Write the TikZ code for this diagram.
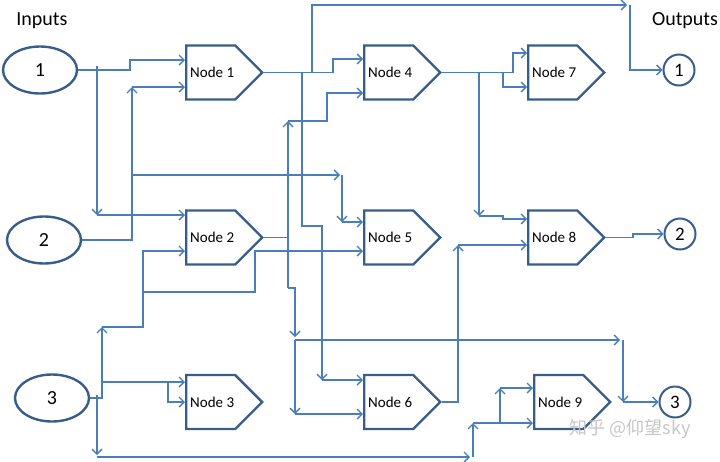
\documentclass[tikz,border=0pt]{standalone}
\usepackage{fontspec}
\setmainfont{Carlito}
\newfontfamily\cjkfont{Noto Sans CJK SC}
\usetikzlibrary{arrows.meta,shapes.geometric,shapes.symbols}
\definecolor{edgeblue}{RGB}{56,93,138}
\definecolor{linkblue}{RGB}{74,126,187}

\begin{document}
\begin{tikzpicture}[x=1pt,y=-1pt,
  proc/.style={signal,signal to=east,signal pointer angle=90,draw=edgeblue,line width=2.4pt,minimum width=76pt,minimum height=54pt,inner sep=0pt,anchor=west,font=\fontsize{15}{17}\selectfont,execute at begin node=\hspace*{3pt}},
  inport/.style={ellipse,draw=edgeblue,line width=2.4pt,minimum width=74pt,minimum height=47pt,font=\fontsize{20}{24}\selectfont},
  outport/.style={circle,draw=edgeblue,line width=2pt,minimum size=31pt,inner sep=0pt,font=\fontsize{19}{22}\selectfont},
  link/.style={draw=linkblue,line width=1.4pt},
  arr/.style={link,-{Straight Barb[length=5pt,width=10pt]}}]
  \useasboundingbox (0,0) rectangle (720,461);
  % Headings
  \node[font=\fontsize{20}{24}\selectfont] (inhead) at (42,21) {Inputs};
  \node[font=\fontsize{20}{24}\selectfont] (outhead) at (685,21) {Outputs};
  % Inputs
  \node[inport] (in1) at (40,70) {1};
  \node[inport] (in2) at (44,240) {2};
  \node[inport] (in3) at (52,398) {3};
  % Nodes
  \node[proc] (n1) at (185,72.5) {Node 1};
  \node[proc] (n2) at (185,237.5) {Node 2};
  \node[proc] (n3) at (185,402) {Node 3};
  \node[proc] (n4) at (363,72.5) {Node 4};
  \node[proc] (n5) at (363,237.5) {Node 5};
  \node[proc] (n6) at (363,402) {Node 6};
  \node[proc] (n7) at (527,72.5) {Node 7};
  \node[proc] (n8) at (527,237.5) {Node 8};
  \node[proc] (n9) at (533,402) {Node 9};
  % Outputs
  \node[outport] (out1) at (679,70) {1};
  \node[outport] (out2) at (680,234) {2};
  \node[outport] (out3) at (675,402) {3};
  % Input 1
  \draw[arr] (in1.east) -- (130,70) |- (n1.west |- 0,60);
  \draw[arr] (97,66) -- (97,215);
  \draw[arr] (97,215) -- (n2.west |- 0,215);
  % Input 2
  \draw[arr] (in2.east) -| (132,87);
  \draw[arr] (132,87) -- (n1.west |- 0,87);
  \draw[arr] (132,175) -- (340,175);
  \draw[arr] (342,175) -- (342,222);
  \draw[arr] (342,222) -- (n5.west |- 0,222);
  % Input 3
  \draw[arr] (in3.east) -- (102,398) -- (102,327);
  \draw[arr] (102,327) -| (143,251) -- (n2.west |- 0,251);
  \draw[arr] (143,292) -| (255,251) -- (n5.west |- 0,251);
  \draw[arr] (102,382) -- (n3.west |- 0,382);
  \draw[arr] (168,382) |- (n3.west |- 0,402);
  \draw[arr] (97,395) -- (97,455);
  \draw[arr] (97,457) -- (470,457);
  \draw[arr] (473,457) -- (473,423);
  \draw[arr] (473,423) -- (n9.west |- 0,423);
  \draw[arr] (500,423) -- (500,388);
  \draw[arr] (500,388) -- (n9.west |- 0,388);
  % Node 1
  \draw[arr] (n1.east) -| (312,5) -- (627,5);
  \draw[arr] (630,5) |- (out1.west);
  \draw[arr] (312,72.5) -| (333,59) -- (n4.west |- 0,59);
  \draw[arr] (302,72.5) |- (322,226) -- (322,380);
  \draw[arr] (322,380) -- (n6.west |- 0,380);
  % Node 2
  \draw[link] (n2.east) -- (288,237.5);
  \draw[arr] (288,288) -- (288,121);
  \draw[arr] (288,121) -| (327,93) -- (n4.west |- 0,93);
  \draw[arr] (288,288) -| (295,337);
  \draw[arr] (295,340) -- (295,414);
  \draw[arr] (295,414) -- (n6.west |- 0,414);
  \draw[arr] (295,340) -- (620,340);
  \draw[arr] (623,340) -- (623,402);
  \draw[arr] (623,402) -- (out3.west);
  % Node 4
  \draw[arr] (n4.east) -| (513,53) -- (n7.west |- 0,53);
  \draw[arr] (503,72.5) |- (n7.west |- 0,87);
  \draw[arr] (479,72.5) -- (479,216);
  \draw[arr] (479,216) -- (503,216) -- (503,219) -- (n8.west |- 0,219);
  % Node 6
  \draw[arr] (n6.east) -| (458,245);
  \draw[arr] (458,245) -- (n8.west |- 0,245);
  % Node 8
  \draw[arr] (n8.east) -- (633,237.5) |- (out2.west);
  % Watermark
  \node[text=gray!45,font=\cjkfont\fontsize{18}{21}\selectfont] (mark) at (630,429) {知乎 @仰望sky};
\end{tikzpicture}
\end{document}
